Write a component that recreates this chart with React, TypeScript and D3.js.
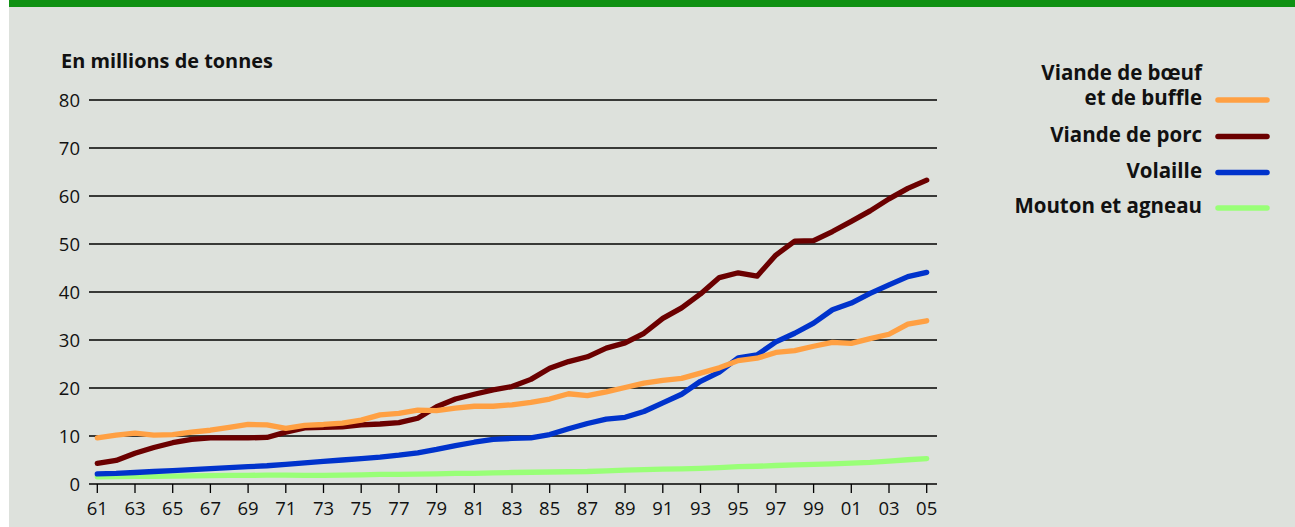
import React from "react";
import * as d3 from "d3";

const years = d3.range(1961, 2006);
const beef = [9.6, 10.2, 10.6, 10.2, 10.3, 10.8, 11.2, 11.8, 12.4, 12.3, 11.6, 12.2, 12.4, 12.7, 13.3, 14.4, 14.7, 15.4, 15.3, 15.8, 16.2, 16.2, 16.5, 17.0, 17.7, 18.8, 18.4, 19.2, 20.1, 21.0, 21.6, 22.0, 23.1, 24.2, 25.7, 26.2, 27.4, 27.8, 28.7, 29.5, 29.3, 30.3, 31.2, 33.3, 34.0];
const pork = [4.3, 4.9, 6.4, 7.6, 8.6, 9.3, 9.6, 9.6, 9.6, 9.7, 10.8, 11.7, 11.8, 11.9, 12.3, 12.5, 12.8, 13.7, 16.1, 17.7, 18.7, 19.6, 20.3, 21.8, 24.1, 25.5, 26.5, 28.3, 29.4, 31.4, 34.5, 36.7, 39.6, 43.0, 44.0, 43.3, 47.7, 50.6, 50.7, 52.6, 54.7, 56.9, 59.4, 61.6, 63.3];
const poultry = [2.1, 2.2, 2.4, 2.6, 2.8, 3.0, 3.2, 3.4, 3.6, 3.8, 4.1, 4.4, 4.7, 5.0, 5.3, 5.6, 6.0, 6.5, 7.2, 8.0, 8.7, 9.3, 9.5, 9.6, 10.3, 11.5, 12.6, 13.5, 13.9, 15.1, 16.9, 18.7, 21.4, 23.3, 26.3, 26.9, 29.6, 31.4, 33.5, 36.3, 37.7, 39.7, 41.5, 43.2, 44.1];
const mutton = [1.5, 1.55, 1.6, 1.6, 1.65, 1.7, 1.75, 1.8, 1.8, 1.85, 1.85, 1.8, 1.8, 1.85, 1.9, 2.0, 2.0, 2.05, 2.1, 2.2, 2.2, 2.3, 2.4, 2.45, 2.5, 2.55, 2.6, 2.75, 2.9, 3.0, 3.1, 3.15, 3.25, 3.4, 3.6, 3.7, 3.85, 4.0, 4.1, 4.2, 4.35, 4.5, 4.75, 5.05, 5.3];

const seriesNames = ["Viande de bœuf|et de buffle", "Viande de porc", "Volaille", "Mouton et agneau"];
const seriesColors = ["#ffa043", "#6b0000", "#0033cc", "#99ff77"];
const seriesValues = [beef, pork, poultry, mutton];
const yTicks = [0, 10, 20, 30, 40, 50, 60, 70, 80];
const xTickYears = years.filter((y) => y % 2 === 1);
const yTitle = "En millions de tonnes";

const W = 1295;
const H = 527;
const FONT = "'Open Sans', 'Noto Sans', sans-serif";

export default function App() {
  const x = d3.scaleLinear().domain([1961, 2005]).range([97.3, 926.7]);
  const y = d3.scaleLinear().domain([0, 80]).range([484, 100]);
  const line = d3
    .line<number>()
    .x((_, i) => x(years[i]))
    .y((d) => y(d));

  const legendY = [100, 136.5, 172.5, 208];

  return (
    <svg
      width={W}
      height={H}
      style={{ position: "absolute", left: 0, top: 0, display: "block" }}
      fontFamily={FONT}
    >
      <rect x={0} y={0} width={W} height={H} fill="#ffffff" />
      <rect x={9} y={0} width={W - 9} height={H} fill="#dde1dc" />
      <rect x={9} y={0} width={W - 9} height={7} fill="#0f9113" />

      <text x={61} y={61} dy="0.35em" fontSize={19.9} fontWeight={700} fill="#111">
        {yTitle}
      </text>

      {yTicks.map((t) => (
        <g key={t}>
          <line x1={89} x2={937} y1={y(t)} y2={y(t)} stroke="#000" strokeWidth={1.3} />
          <text x={80} y={y(t)} dy="0.36em" textAnchor="end" fontSize={18.5} fill="#111">
            {t}
          </text>
        </g>
      ))}

      {xTickYears.map((yr) => (
        <g key={yr}>
          <line x1={x(yr)} x2={x(yr)} y1={484} y2={493} stroke="#000" strokeWidth={1.3} />
          <text x={x(yr)} y={508} dy="0.36em" textAnchor="middle" fontSize={18.5} fill="#111">
            {String(yr % 100).padStart(2, "0")}
          </text>
        </g>
      ))}

      {[3, 2, 1, 0].map((i) => (
        <path
          key={i}
          d={line(seriesValues[i]) || ""}
          fill="none"
          stroke={seriesColors[i]}
          strokeWidth={5.3}
          strokeLinejoin="round"
          strokeLinecap="round"
        />
      ))}

      {seriesNames.map((name, i) => {
        const parts = name.split("|");
        const ly = legendY[i];
        return (
          <g key={i}>
            {parts.map((p, j) => (
              <text
                key={j}
                x={1202}
                y={ly - 2 - (parts.length - 1 - j) * 25}
                dy="0.35em"
                textAnchor="end"
                fontSize={20.5}
                fontWeight={700}
                fill="#111"
              >
                {p}
              </text>
            ))}
            <line x1={1218} x2={1267} y1={ly} y2={ly} stroke={seriesColors[i]} strokeWidth={5.5} strokeLinecap="round" />
          </g>
        );
      })}
    </svg>
  );
}
